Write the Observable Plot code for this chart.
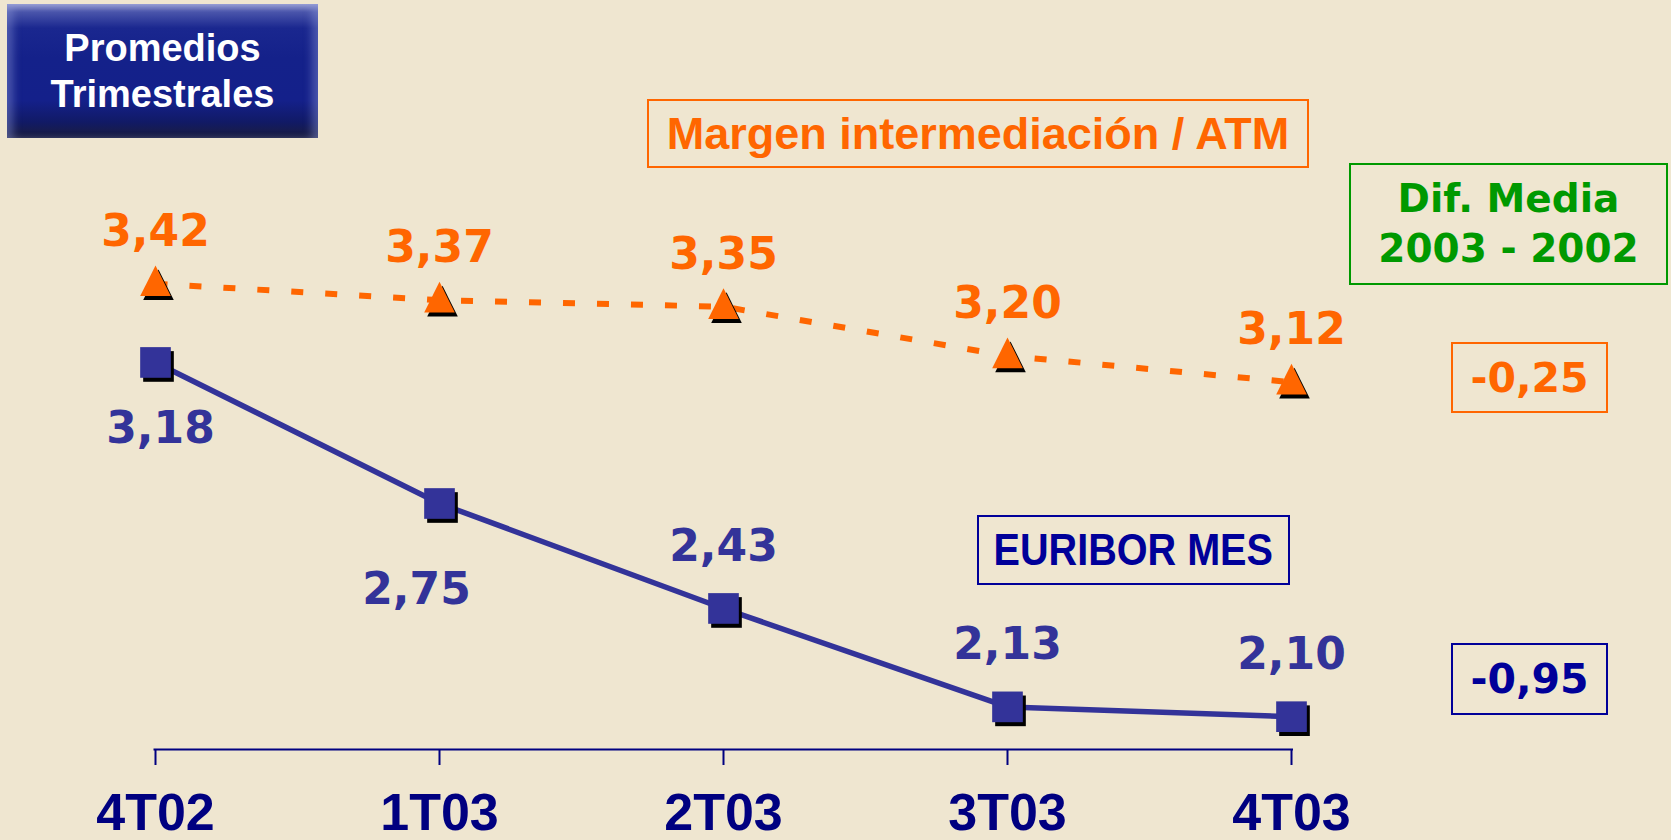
<!DOCTYPE html>
<html>
<head>
<meta charset="utf-8">
<script src="https://cdn.jsdelivr.net/npm/d3@7"></script>
<script src="https://cdn.jsdelivr.net/npm/@observablehq/plot@0.6"></script>
<style>
  html, body { margin: 0; padding: 0; background: #EFE6D0; }
  #wrap { position: relative; width: 1671px; height: 840px; overflow: hidden; background: #EFE6D0; }
  #chart { position: absolute; left: 0; top: 0; }
  .box { position: absolute; box-sizing: border-box; display: flex; flex-direction: column; align-items: center; justify-content: center; white-space: nowrap; }
  #title { left: 7px; top: 4px; width: 311px; height: 134px;
    background: linear-gradient(180deg, #9aa0d4 0%, #4a55ab 6%, #1a278f 18%, #14218a 40%, #14208a 72%, #111a66 88%, #1b1d3e 100%);
    box-shadow: inset 9px 0 9px -3px rgba(140,150,215,0.45), inset -9px 0 9px -3px rgba(140,150,215,0.45);
    color: #fff; font-family: "Liberation Sans", Arial, sans-serif; font-weight: bold; font-size: 38px; line-height: 46px; }
  #margen { left: 647px; top: 99px; width: 662px; height: 69px; border: 2px solid #FF6600; color: #FF6600;
    font-family: "Liberation Sans", Arial, sans-serif; font-weight: bold; font-size: 45px; }
  #dif { left: 1349px; top: 163px; width: 319px; height: 122px; border: 2px solid #009900; color: #009900;
    font-family: "DejaVu Sans", sans-serif; font-weight: bold; font-size: 39px; line-height: 50px; }
  #dm { left: 1451px; top: 342px; width: 157px; height: 71px; border: 2px solid #FF6600; color: #FF6600;
    font-family: "DejaVu Sans", sans-serif; font-weight: bold; font-size: 41px; }
  #eur { left: 977px; top: 515px; width: 313px; height: 70px; border: 2px solid #000099; color: #000099;
    font-family: "Liberation Sans", Arial, sans-serif; font-weight: bold; font-size: 44px; }
  #eur span { display: inline-block; transform: scaleX(0.9); }
  #de { left: 1451px; top: 643px; width: 157px; height: 72px; border: 2px solid #000099; color: #000099;
    font-family: "DejaVu Sans", sans-serif; font-weight: bold; font-size: 41px; }
</style>
</head>
<body>
<div id="wrap"></div>
<script>
// ---- data ----
const quarters = ["4T02", "1T03", "2T03", "3T03", "4T03"];
const margen = [3.42, 3.37, 3.35, 3.20, 3.12];
const euribor = [3.18, 2.75, 2.43, 2.13, 2.10];
const titleLines = ["Promedios", "Trimestrales"];
const margenLabel = "Margen intermediación / ATM";
const euriborLabel = "EURIBOR MES";
const difLines = ["Dif. Media", "2003 - 2002"];
const difMargen = "-0,25";
const difEuribor = "-0,95";

const data = quarters.map((q, i) => ({q, i, margen: margen[i], euribor: euribor[i]}));
const fmt = v => v.toFixed(2).replace(".", ",");

const ORANGE = "#FF6600", BLUE = "#333399", NAVY = "#000080";
const valFont = {fontFamily: "DejaVu Sans, Verdana, sans-serif", fontWeight: "bold", fontSize: 44};

// taller triangle (height ≈ width), centred near its centroid
const tallTriangle = {
  draw(ctx, size) {
    const r = Math.sqrt(size / Math.PI);
    const hw = 1.15 * r, h = 2.3 * r;
    ctx.moveTo(0, -h * 0.6);
    ctx.lineTo(hw, h * 0.4);
    ctx.lineTo(-hw, h * 0.4);
    ctx.closePath();
  }
};

const chart = Plot.plot({
  width: 1671,
  height: 840,
  marginLeft: 153.5,
  marginRight: 378,
  marginTop: 224.2,
  marginBottom: 91,
  x: {type: "point", domain: quarters, padding: 0, axis: null},
  y: {domain: [2, 3.6], axis: null},
  style: {background: "transparent", overflow: "visible"},
  marks: [
    Plot.ruleY([2], {stroke: NAVY, strokeWidth: 2}),
    Plot.axisX({tickSize: 16, tickPadding: 28, fontSize: 52, fontFamily: "Liberation Sans, Arial, sans-serif",
      fontWeight: "bold", color: NAVY, strokeWidth: 2, label: null}),
    Plot.line(data, {x: "q", y: "euribor", stroke: BLUE, strokeWidth: 5.5}),
    Plot.line(data, {x: "q", y: "margen", stroke: ORANGE, strokeWidth: 6, strokeDasharray: "12,22", strokeLinecap: "butt"}),
    Plot.dot(data, {x: "q", y: "euribor", symbol: "square", r: 17.3, fill: "black", dx: 3, dy: 4}),
    Plot.dot(data, {x: "q", y: "euribor", symbol: "square", r: 17.3, fill: BLUE}),
    Plot.dot(data, {x: "q", y: "margen", symbol: tallTriangle, r: 13.3, fill: "black", dx: 3, dy: 4}),
    Plot.dot(data, {x: "q", y: "margen", symbol: tallTriangle, r: 13.3, fill: ORANGE}),
    Plot.text(data, {x: "q", y: "margen", text: d => fmt(d.margen), fill: ORANGE, dy: -52, ...valFont}),
    Plot.text(data, {filter: d => d.i === 0, x: "q", y: "euribor", text: d => fmt(d.euribor), fill: BLUE, dx: 5, dy: 66, ...valFont}),
    Plot.text(data, {filter: d => d.i === 1, x: "q", y: "euribor", text: d => fmt(d.euribor), fill: BLUE, dx: -23, dy: 86, ...valFont}),
    Plot.text(data, {filter: d => d.i >= 2, x: "q", y: "euribor", text: d => fmt(d.euribor), fill: BLUE, dy: -62, ...valFont})
  ]
});
chart.id = "chart";
const wrap = document.getElementById("wrap");
wrap.appendChild(chart);

function box(id, lines, inner) {
  const div = document.createElement("div");
  div.className = "box";
  div.id = id;
  for (const l of lines) {
    const s = document.createElement(inner ? "span" : "div");
    s.textContent = l;
    div.appendChild(s);
  }
  wrap.appendChild(div);
}
box("title", titleLines);
box("margen", [margenLabel]);
box("dif", difLines);
box("dm", [difMargen]);
box("eur", [euriborLabel], true);
box("de", [difEuribor]);
</script>
</body>
</html>
